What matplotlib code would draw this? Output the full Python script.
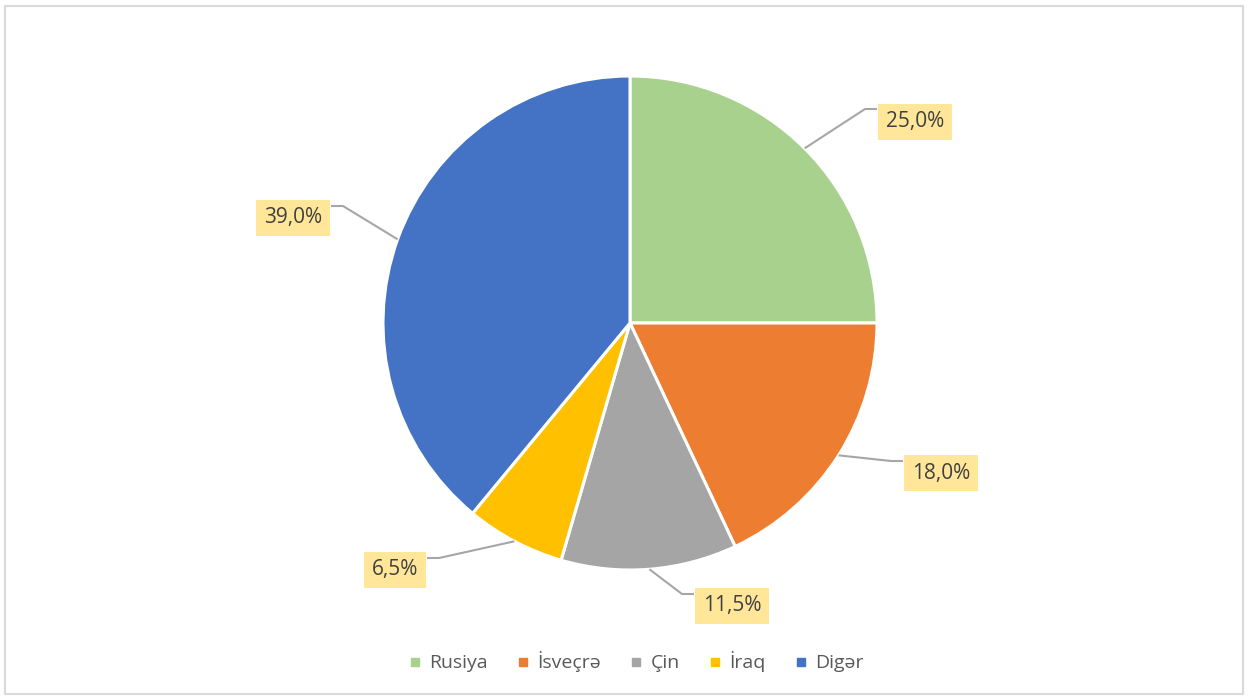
import numpy as np
import matplotlib.pyplot as plt
import matplotlib.patches as mpatches
from matplotlib.lines import Line2D

W, H = 1249, 699
CATEGORIES = ['Rusiya', 'İsveçrə', 'Çin', 'İraq', 'Digər']
SHARES = [25.0, 18.0, 11.5, 6.5, 39.0]
LABELS = ['25,0%', '18,0%', '11,5%', '6,5%', '39,0%']
COLOURS = ['#A9D18E', '#ED7D31', '#A5A5A5', '#FFC000', '#4472C4']

CENTER = (630, 323)
RADIUS = 247
# label box centres and leader elbow points, in pixel coordinates (y down)
LABEL_POS = [(915, 122), (941, 473), (732, 606), (395, 570), (293, 218)]
ELBOWS = [((865, 109), (877, 109)), ((891, 461), (903, 461)), ((682, 594), (694, 594)),
          ((439, 558), (427, 558)), ((343, 206), (331, 206))]

plt.rcParams['font.family'] = ['Open Sans', 'DejaVu Sans']


def py(y):
    return H - y


fig = plt.figure(figsize=(W / 100, H / 100), dpi=100)
ax = fig.add_axes([0, 0, 1, 1])

ax.add_patch(mpatches.Rectangle((5.5, py(693.5)), W - 11, 688, fill=False,
                                edgecolor='#D9D9D9', linewidth=1.5))

wedges, _ = ax.pie(SHARES, colors=COLOURS, startangle=90, counterclock=False,
                   center=(CENTER[0], py(CENTER[1])), radius=RADIUS,
                   wedgeprops=dict(edgecolor='white', linewidth=2.2), frame=True)
ax.set_xlim(0, W)
ax.set_ylim(0, H)
ax.set_aspect('equal')
ax.axis('off')

for w, lab, pos, (elbow, end) in zip(wedges, LABELS, LABEL_POS, ELBOWS):
    ang = np.deg2rad((w.theta1 + w.theta2) / 2)
    x0 = CENTER[0] + RADIUS * np.cos(ang)
    y0 = py(CENTER[1]) + RADIUS * np.sin(ang)
    ax.plot([x0, elbow[0], end[0]], [y0, py(elbow[1]), py(end[1])],
            color='#A6A6A6', linewidth=1.5, solid_capstyle='butt')
    ax.text(pos[0], py(pos[1]), lab, ha='center', va='center', fontsize=15,
            color='#404040',
            bbox=dict(boxstyle='square,pad=0.36', facecolor='#FFE699', edgecolor='none'))

handles = [Line2D([], [], marker='s', linestyle='none', markersize=6,
                  markerfacecolor=c, markeredgecolor=c) for c in COLOURS]
fig.legend(handles, CATEGORIES, loc='center', bbox_to_anchor=(636 / W, 1 - 662 / H),
           ncol=5, frameon=False, fontsize=14, labelcolor='#595959',
           handlelength=0.7, handletextpad=0.4, columnspacing=1.45)

fig.savefig('out.png', dpi=100)
